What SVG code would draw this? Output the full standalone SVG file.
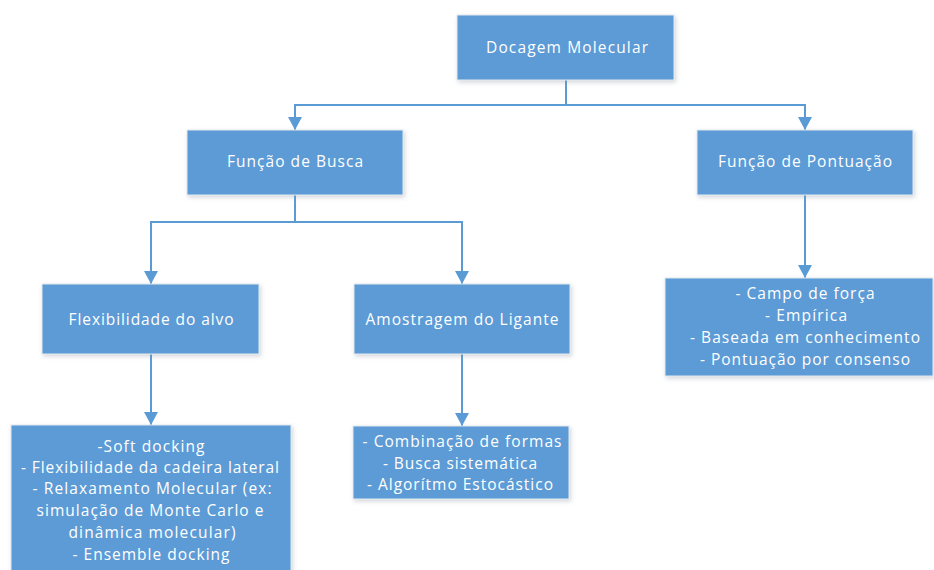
<svg xmlns="http://www.w3.org/2000/svg" width="934" height="570" viewBox="0 0 934 570">
  <style>
    .box { fill: #5B9BD5; stroke: #E4E9F0; stroke-width: 1; filter: url(#shadow); }
    .label { font-family: "Open Sans", "Noto Sans", "DejaVu Sans", sans-serif; font-size: 15.5px; fill: #FFFFFF; text-anchor: middle; }
    .link { fill: none; stroke: #5B9BD5; stroke-width: 2; marker-end: url(#arrow); }
    .plain { fill: none; stroke: #5B9BD5; stroke-width: 2; }
  </style>
  <defs>
    <filter id="shadow" x="-10%" y="-10%" width="125%" height="130%">
      <feDropShadow dx="1.5" dy="2" stdDeviation="2" flood-color="#7F8C9A" flood-opacity="0.35"/>
    </filter>
    <marker id="arrow" markerUnits="userSpaceOnUse" markerWidth="14" markerHeight="14" viewBox="0 0 14 14" refX="13" refY="7" orient="auto">
      <path d="M0,0 L13,7 L0,14 Z" fill="#5B9BD5"/>
    </marker>
  </defs>
  <rect width="934" height="570" fill="#FFFFFF"/>

  <!-- connectors -->
  <g id="connectors">
    <path class="plain" d="M566,80 V105"/>
    <path class="link" d="M566,105 H295 V130"/>
    <path class="link" d="M566,105 H805 V130"/>
    <path class="plain" d="M295,195 V222"/>
    <path class="link" d="M295,222 H151 V284"/>
    <path class="link" d="M295,222 H462 V284"/>
    <path class="link" d="M805,195 V278"/>
    <path class="link" d="M151,354 V425"/>
    <path class="link" d="M462,354 V426"/>
  </g>

  <!-- root -->
  <g id="docagem">
    <rect class="box" x="457" y="15" width="217" height="65"/>
    <text class="label" x="567" y="53" textLength="162" lengthAdjust="spacing">Docagem Molecular</text>
  </g>

  <!-- second level -->
  <g id="busca">
    <rect class="box" x="187" y="130" width="216" height="65"/>
    <text class="label" x="295" y="167" textLength="136" lengthAdjust="spacing">Função de Busca</text>
  </g>
  <g id="pontuacao">
    <rect class="box" x="697" y="130" width="216" height="65"/>
    <text class="label" x="805" y="167" textLength="174" lengthAdjust="spacing">Função de Pontuação</text>
  </g>

  <!-- third level -->
  <g id="flexibilidade">
    <rect class="box" x="42" y="284" width="217" height="70"/>
    <text class="label" x="151" y="325" textLength="165" lengthAdjust="spacing">Flexibilidade do alvo</text>
  </g>
  <g id="amostragem">
    <rect class="box" x="354" y="284" width="216" height="70"/>
    <text class="label" x="462" y="325" textLength="193" lengthAdjust="spacing">Amostragem do Ligante</text>
  </g>
  <g id="tipos-pontuacao">
    <rect class="box" x="665" y="278" width="268" height="98"/>
    <text class="label" x="805" y="299" textLength="139" lengthAdjust="spacing">- Campo de força</text>
    <text class="label" x="806" y="321" textLength="82" lengthAdjust="spacing">- Empírica</text>
    <text class="label" x="805" y="343" textLength="230" lengthAdjust="spacing">- Baseada em conhecimento</text>
    <text class="label" x="805" y="365" textLength="210" lengthAdjust="spacing">- Pontuação por consenso</text>
  </g>

  <!-- leaves -->
  <g id="tipos-flexibilidade">
    <rect class="box" x="11" y="425" width="280" height="155"/>
    <text class="label" x="151" y="452" textLength="107" lengthAdjust="spacing">-Soft docking</text>
    <text class="label" x="150" y="473" textLength="258" lengthAdjust="spacing">- Flexibilidade da cadeira lateral</text>
    <text class="label" x="152" y="494" textLength="239" lengthAdjust="spacing">- Relaxamento Molecular (ex:</text>
    <text class="label" x="150" y="516" textLength="227" lengthAdjust="spacing">simulação de Monte Carlo e</text>
    <text class="label" x="152" y="538" textLength="167" lengthAdjust="spacing">dinâmica molecular)</text>
    <text class="label" x="151" y="560" textLength="157" lengthAdjust="spacing">- Ensemble docking</text>
  </g>
  <g id="tipos-amostragem">
    <rect class="box" x="353" y="426" width="216" height="73"/>
    <text class="label" x="462" y="447" textLength="199" lengthAdjust="spacing">- Combinação de formas</text>
    <text class="label" x="460" y="469" textLength="154" lengthAdjust="spacing">- Busca sistemática</text>
    <text class="label" x="460" y="490" textLength="186" lengthAdjust="spacing">- Algorítmo Estocástico</text>
  </g>
</svg>
